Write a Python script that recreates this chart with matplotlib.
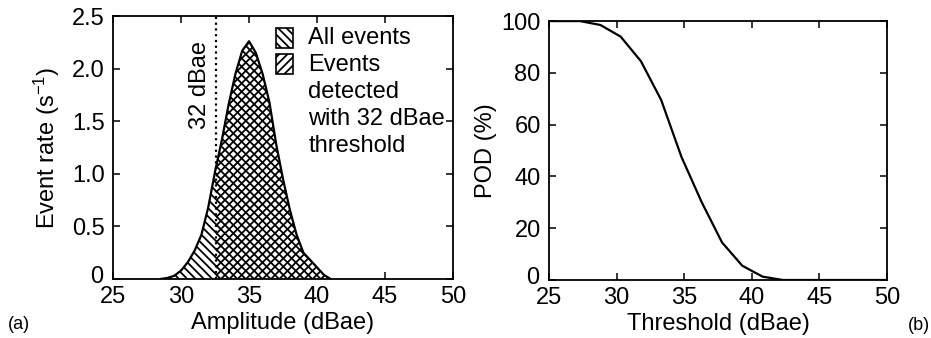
import numpy as np
import matplotlib
matplotlib.use("Agg")
import matplotlib.pyplot as plt
from matplotlib.patches import Rectangle
from matplotlib.transforms import ScaledTranslation

plt.rcParams['font.family'] = ['Liberation Sans', 'DejaVu Sans']
plt.rcParams['mathtext.default'] = 'regular'
plt.rcParams['hatch.linewidth'] = 1.3

# Event-rate distribution versus amplitude
amplitude = [28.5, 29.0, 29.5, 30.0, 30.5, 31.0, 31.5, 32.0, 32.5, 33.0, 33.5, 34.0,
             34.5, 35.0, 35.5, 36.0, 36.5, 37.0, 37.5, 38.0, 38.5, 39.0, 39.5, 40.0,
             40.5, 41.0]
event_rate = [0.0, 0.01, 0.03, 0.08, 0.16, 0.27, 0.42, 0.68, 1.02, 1.32, 1.66, 1.95,
              2.17, 2.26, 2.15, 1.95, 1.68, 1.28, 0.95, 0.66, 0.42, 0.25, 0.18, 0.11,
              0.04, 0.0]
threshold_db = 32.6

# Probability of detection versus threshold
threshold = [25.0, 27.3, 28.8, 30.3, 31.8, 33.3, 34.8, 36.3, 37.8, 39.3, 40.8, 42.3, 50.0]
pod = [100.0, 100.0, 98.5, 94.0, 84.5, 69.5, 47.5, 30.0, 14.5, 5.5, 1.3, 0.0, 0.0]

x_ticks = [25, 30, 35, 40, 45, 50]
rate_ticks = [0, 0.5, 1.0, 1.5, 2.0, 2.5]
rate_labels = ['0', '0.5', '1.0', '1.5', '2.0', '2.5']
pod_ticks = [0, 20, 40, 60, 80, 100]

FS = 17
HATCH_ALL = '\\\\\\\\'
HATCH_DET = '////'

fig = plt.figure(figsize=(9.31, 3.38), dpi=100)
ax1 = fig.add_axes([0.1214, 0.1746, 0.3652, 0.778])
ax2 = fig.add_axes([0.5897, 0.1716, 0.3630, 0.766])

for ax in (ax1, ax2):
    for s in ax.spines.values():
        s.set_linewidth(1.3)
    ax.tick_params(direction='in', top=True, right=True, length=5, width=1.1,
                   labelsize=FS)
    ax.tick_params(axis='x', pad=5)
    ax.tick_params(axis='y', pad=6)
    ax.set_xlim(25, 50)
    ax.set_xticks(x_ticks)

# (a) event-rate distribution
amp = np.asarray(amplitude)
rate = np.asarray(event_rate)
ax1.fill_between(amp, rate, facecolor='white', edgecolor='black',
                 hatch=HATCH_ALL, linewidth=0, zorder=2)
detected = ax1.fill_between(amp, rate, facecolor='none', edgecolor='black',
                            hatch=HATCH_DET, linewidth=0, zorder=3)
clip = Rectangle((threshold_db, 0), 50 - threshold_db, 3, transform=ax1.transData)
detected.set_clip_path(clip)
ax1.plot(amp, rate, color='black', lw=1.6, zorder=4)
ax1.axvline(threshold_db, color='black', lw=1.6, ls=(0, (1, 1.6)), zorder=5)
ax1.text(31.4, 1.84, '32 dBae', rotation=90, ha='center', va='center', fontsize=FS)

ax1.set_ylim(0, 2.5)
ax1.set_yticks(rate_ticks)
ax1.set_yticklabels(rate_labels)
ax1.set_xlabel('Amplitude (dBae)', fontsize=FS, labelpad=3)
ax1.set_ylabel('Event rate (s$^{-1}$)', fontsize=FS, labelpad=7)

# legend keys
key_x, key_w, key_h = 0.480, 0.050, 0.075
ax1.add_patch(Rectangle((key_x, 0.880), key_w, key_h, transform=ax1.transAxes,
                        facecolor='white', edgecolor='black', hatch=HATCH_ALL,
                        lw=1.2, zorder=6))
ax1.add_patch(Rectangle((key_x, 0.779), key_w, key_h, transform=ax1.transAxes,
                        facecolor='white', edgecolor='black', hatch=HATCH_DET,
                        lw=1.2, zorder=6))
legend_lines = ['All events', 'Events', 'detected', 'with 32 dBae', 'threshold']
legend_y = [0.916, 0.814, 0.712, 0.608, 0.505]
for txt, yy in zip(legend_lines, legend_y):
    ax1.text(0.574, yy, txt, transform=ax1.transAxes, ha='left', va='center',
             fontsize=FS, zorder=7, clip_on=False)

# (b) probability of detection
ax2.plot(threshold, pod, color='black', lw=1.6)
ax2.set_ylim(0, 100)
ax2.set_yticks(pod_ticks)
ax2.set_xlabel('Threshold (dBae)', fontsize=FS, labelpad=3)
ax2.set_ylabel('POD (%)', fontsize=FS, labelpad=3)

# lift the corner "0" labels a little so they sit clear of the first x label
fig.canvas.draw()
shift = ScaledTranslation(-1 / 100, 4 / 100, fig.dpi_scale_trans)
for ax in (ax1, ax2):
    lbl = ax.yaxis.get_majorticklabels()[0]
    lbl.set_transform(lbl.get_transform() + shift)

fig.text(0.0086, 0.041, '(a)', fontsize=13, ha='left', va='center')
fig.text(0.9985, 0.036, '(b)', fontsize=13, ha='right', va='center')

fig.savefig('out.png', dpi=100)
